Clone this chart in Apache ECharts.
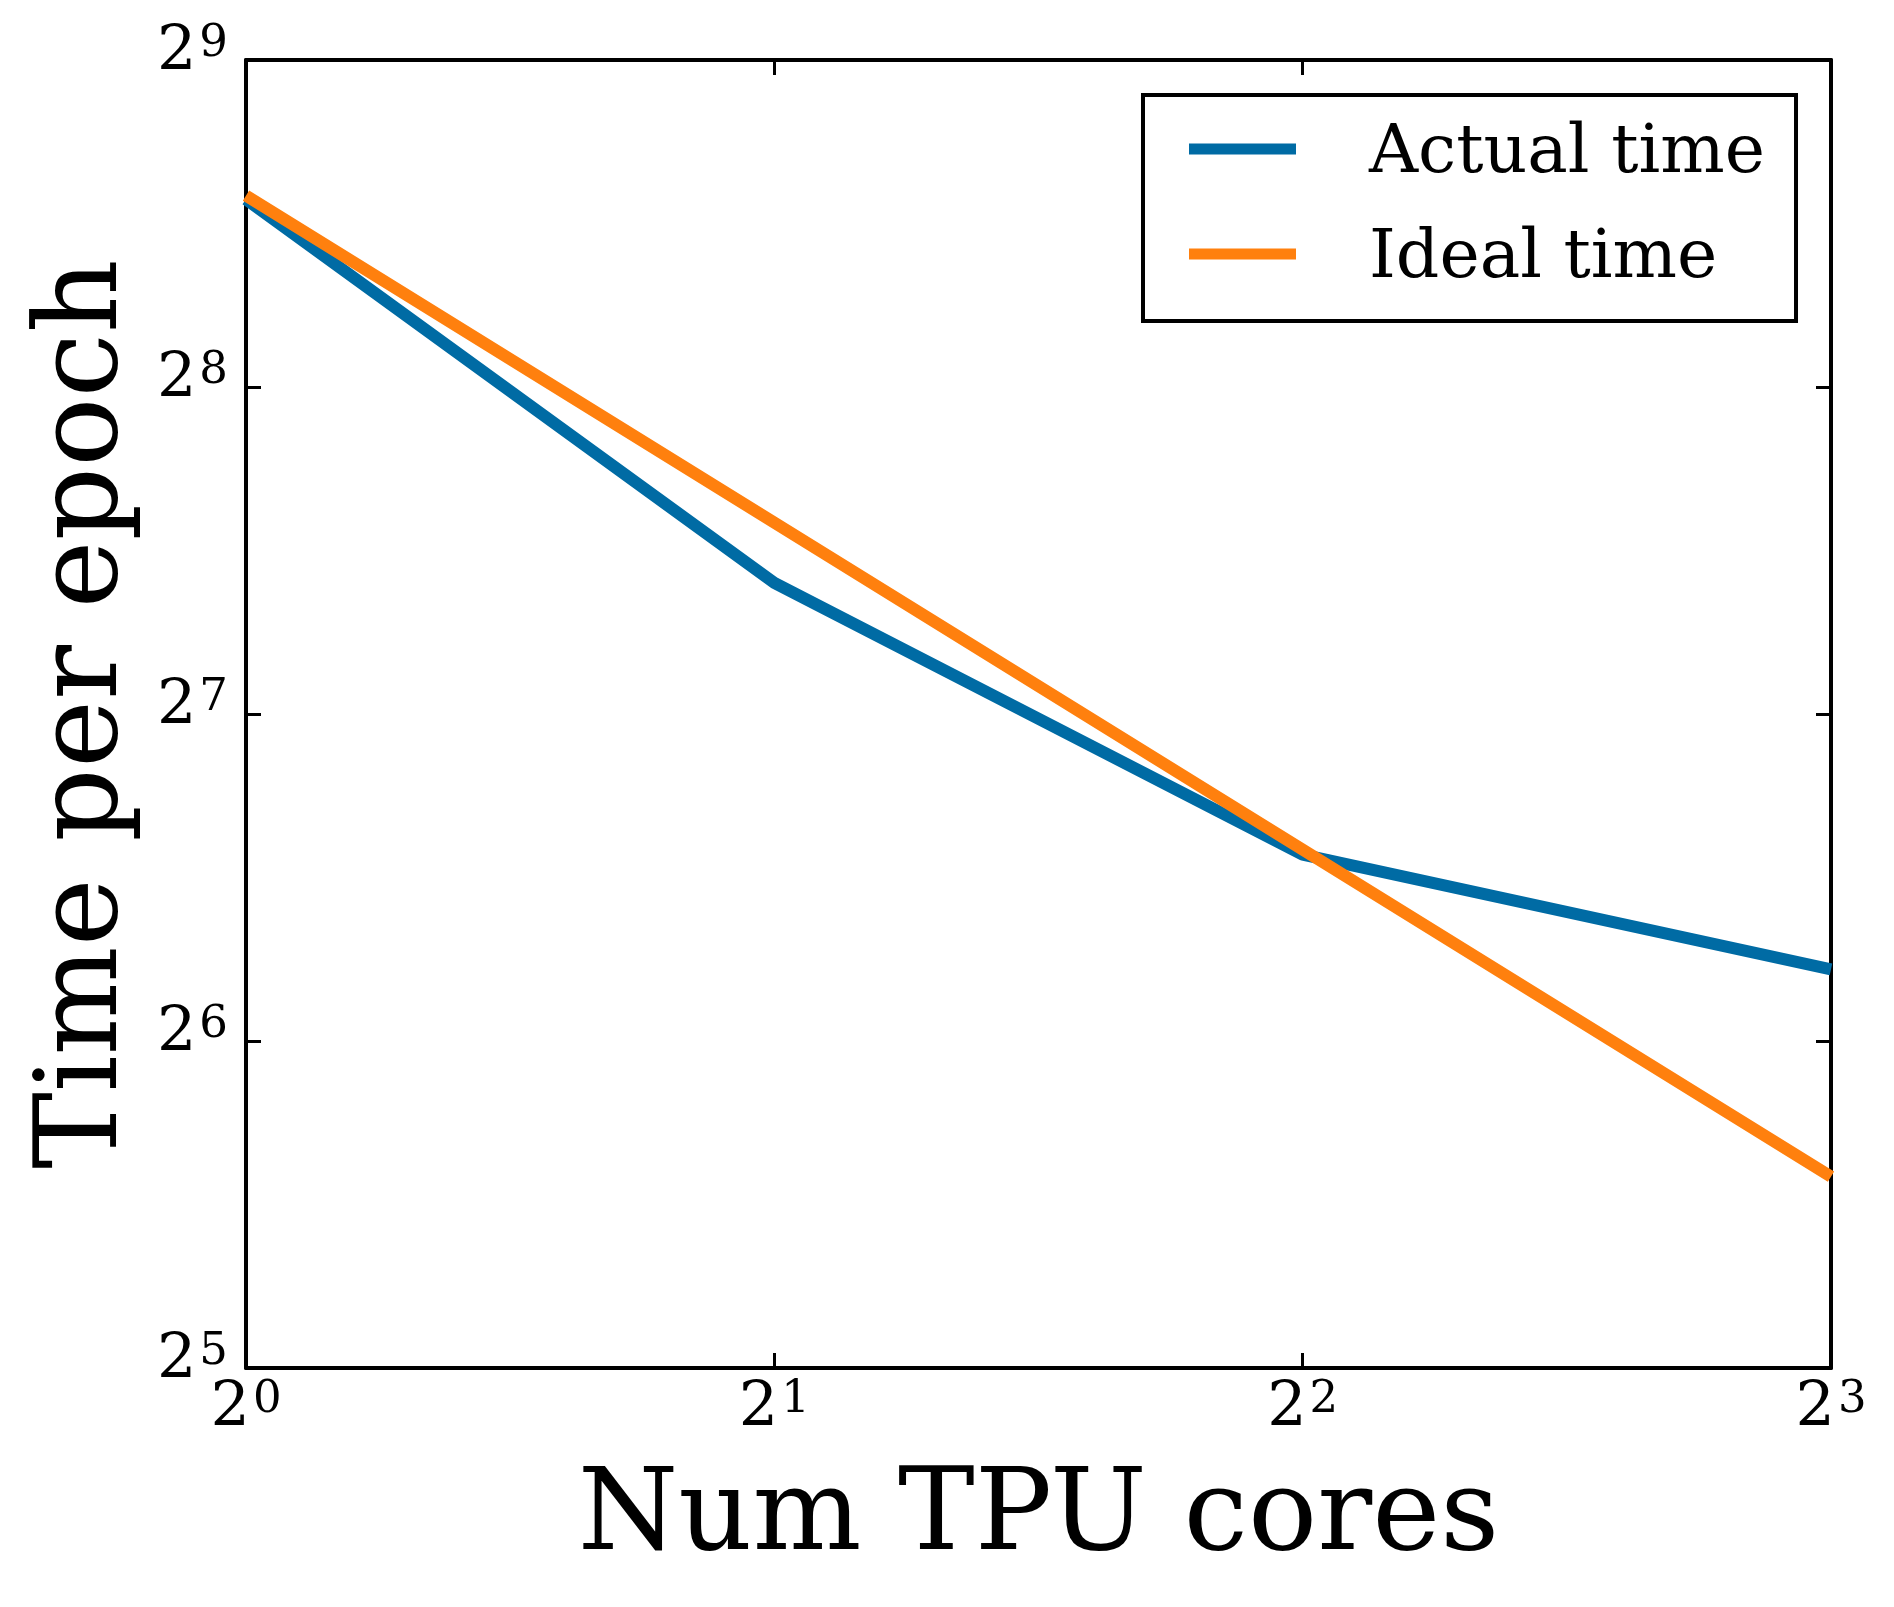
<!DOCTYPE html>
<html>
<head>
<meta charset="utf-8">
<script src="https://cdn.jsdelivr.net/npm/echarts@6/dist/echarts.min.js"></script>
<style>
  html, body { margin: 0; padding: 0; background: #fff; }
  #chart { width: 1894px; height: 1607px; }
</style>
</head>
<body>
<div id="chart"></div>
<script>
var cores = [1, 2, 4, 8];
var actualTime = [381, 169, 95, 74.5];
var idealTime = [384, 192, 96, 48];
var seriesNames = ['Actual time', 'Ideal time'];

var FONT = 'DejaVu Serif';

function pairs(ys) {
    return cores.map(function (c, i) { return [c, ys[i]]; });
}

// 2^n labels, superscript via rich text
function powLabel(v) {
    return '{b|2}{s|' + Math.round(Math.log2(v)) + '}';
}

var labelRich = {
    b: { fontFamily: FONT, fontSize: 62, lineHeight: 62, color: '#000' },
    s: { fontFamily: FONT, fontSize: 45, lineHeight: 34, verticalAlign: 'top', padding: [0, 0, 0, 3], color: '#000' }
};

var axisLine = { show: true, lineStyle: { color: '#000', width: 4 } };
var axisTick = { show: true, inside: true, length: 15, lineStyle: { color: '#000', width: 3 } };

var myChart = echarts.init(document.getElementById('chart'));

var option = {
    backgroundColor: '#fff',
    animation: false,
    grid: { left: 246, right: 63, top: 60, bottom: 239 },
    legend: {
        orient: 'vertical',
        left: 1143,
        top: 95,
        padding: [15, 31, 28, 46],
        itemWidth: 107,
        itemHeight: 11,
        itemGap: 27,
        icon: 'rect',
        borderColor: '#000',
        borderWidth: 4,
        borderRadius: 0,
        formatter: function (name) {
            return '{t|' + name + '}';
        },
        textStyle: {
            fontFamily: FONT,
            fontSize: 68,
            color: '#000',
            rich: {
                t: {
                    fontFamily: FONT,
                    fontSize: 68,
                    lineHeight: 60,
                    color: '#000',
                    padding: [10, 0, 0, 68]
                }
            }
        },
        data: seriesNames
    },
    xAxis: [
        {
            type: 'log',
            logBase: 2,
            min: 1,
            max: 8,
            splitNumber: 3,
            name: 'Num TPU cores',
            nameLocation: 'middle',
            nameGap: 94,
            nameTextStyle: { fontFamily: FONT, fontSize: 115, lineHeight: 115, color: '#000' },
            axisLine: axisLine,
            axisTick: axisTick,
            splitLine: { show: false },
            axisLabel: { margin: 10, formatter: powLabel, rich: labelRich }
        },
        {
            type: 'log',
            logBase: 2,
            min: 1,
            max: 8,
            splitNumber: 3,
            position: 'top',
            axisLine: axisLine,
            axisTick: axisTick,
            splitLine: { show: false },
            axisLabel: { show: false }
        }
    ],
    yAxis: [
        {
            type: 'log',
            logBase: 2,
            min: 32,
            max: 512,
            splitNumber: 4,
            name: 'Time per epoch',
            nameLocation: 'middle',
            nameRotate: 90,
            nameGap: 102,
            nameTextStyle: { fontFamily: FONT, fontSize: 115, lineHeight: 115, color: '#000' },
            axisLine: axisLine,
            axisTick: axisTick,
            splitLine: { show: false },
            axisLabel: { margin: 18, padding: [0, 0, 15, 0], formatter: powLabel, rich: labelRich }
        },
        {
            type: 'log',
            logBase: 2,
            min: 32,
            max: 512,
            splitNumber: 4,
            position: 'right',
            axisLine: axisLine,
            axisTick: axisTick,
            splitLine: { show: false },
            axisLabel: { show: false }
        }
    ],
    series: [
        {
            name: seriesNames[0],
            type: 'line',
            xAxisIndex: 0,
            yAxisIndex: 0,
            symbol: 'none',
            color: '#006BA4',
            lineStyle: { width: 12, color: '#006BA4' },
            data: pairs(actualTime)
        },
        {
            name: seriesNames[1],
            type: 'line',
            xAxisIndex: 0,
            yAxisIndex: 0,
            symbol: 'none',
            color: '#FF800E',
            lineStyle: { width: 12, color: '#FF800E' },
            data: pairs(idealTime)
        }
    ]
};

myChart.setOption(option);

window.addEventListener('resize', function () {
    myChart.resize();
});
</script>
</body>
</html>
